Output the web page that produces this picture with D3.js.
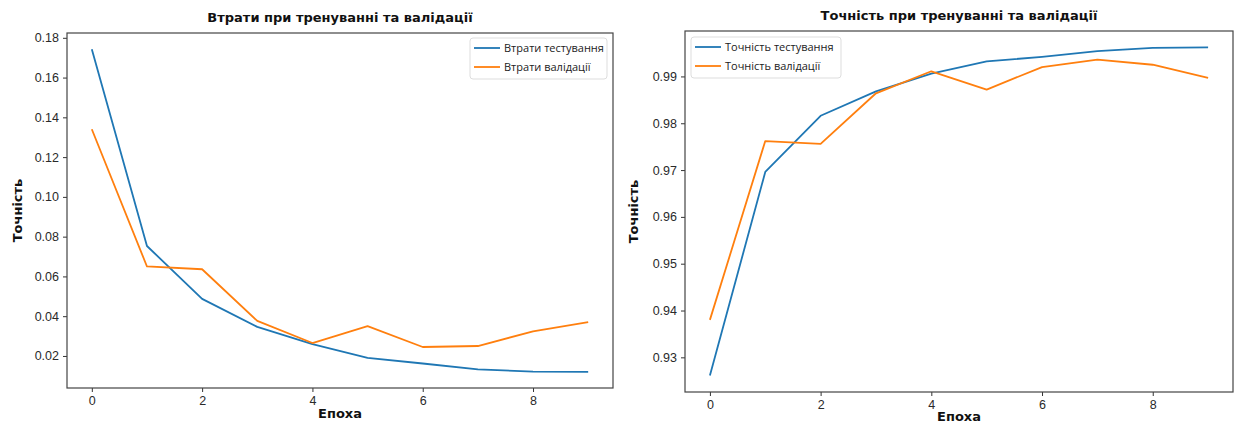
<!DOCTYPE html>
<html>
<head>
<meta charset="utf-8">
<script src="https://cdn.jsdelivr.net/npm/d3@7"></script>
<style>
  body { margin: 0; background: #fff; }
  svg { display: block; font-family: "DejaVu Sans", sans-serif; }
  .tick text { fill: #2a2a2a; font-size: 12.5px; }
  .tick line { stroke: #333; }
  .domain { display: none; }
</style>
</head>
<body>
<div id="chart"></div>
<script>
// epochs and series
var epochs = [0, 1, 2, 3, 4, 5, 6, 7, 8, 9];
var trainLoss = [0.1743, 0.0753, 0.0487, 0.0346, 0.0260, 0.0190, 0.0162, 0.0133, 0.0121, 0.0120];
var valLoss = [0.1340, 0.0650, 0.0636, 0.0376, 0.0265, 0.0350, 0.0245, 0.0250, 0.0324, 0.0370];
var trainAcc = [0.9261, 0.9696, 0.9816, 0.9868, 0.9906, 0.9932, 0.9942, 0.9954, 0.9961, 0.9962];
var valAcc = [0.9380, 0.9762, 0.9756, 0.9864, 0.9911, 0.9872, 0.9920, 0.9936, 0.9925, 0.9897];

// tick labels
var epochTicks = [0, 2, 4, 6, 8];
var lossTicks = [0.02, 0.04, 0.06, 0.08, 0.10, 0.12, 0.14, 0.16, 0.18];
var accTicks = [0.93, 0.94, 0.95, 0.96, 0.97, 0.98, 0.99];

// texts
var lossTitle = "Втрати при тренуванні та валідації";
var accTitle = "Точність при тренуванні та валідації";
var lossLegend = ["Втрати тестування", "Втрати валідації"];
var accLegend = ["Точність тестування", "Точність валідації"];
var xLabel = "Епоха";
var yLabel = "Точність";

var colors = ["#1f77b4", "#ff7f0e"];

var svg = d3.select("#chart")
    .append("svg")
    .attr("width", 1234)
    .attr("height", 425);

// pad like matplotlib does (5% of span)
function padded(arr) {
    var ext = d3.extent(arr);
    var m = (ext[1] - ext[0]) * 0.05;
    return [ext[0] - m, ext[1] + m];
}

function drawPanel(opts) {
    var left = opts.left, top = opts.top, right = opts.right, bottom = opts.bottom;

    var x = d3.scaleLinear()
        .domain(padded(epochs))
        .range([left, right]);

    var y = d3.scaleLinear()
        .domain(padded(opts.series[0].concat(opts.series[1])))
        .range([bottom, top]);

    var g = svg.append("g");

    // axes
    g.append("g")
        .attr("transform", `translate(0, ${bottom})`)
        .call(d3.axisBottom(x).tickValues(epochTicks).tickSize(4).tickPadding(4).tickFormat(d3.format("d")));

    g.append("g")
        .attr("transform", `translate(${left}, 0)`)
        .call(d3.axisLeft(y).tickValues(opts.ticks).tickSize(4).tickPadding(4).tickFormat(d3.format(opts.fmt)));

    // lines
    var line = d3.line()
        .x((d, i) => x(epochs[i]))
        .y(d => y(d));

    opts.series.forEach((s, k) => {
        g.append("path")
            .datum(s)
            .attr("fill", "none")
            .attr("stroke", colors[k])
            .attr("stroke-width", 1.8)
            .attr("stroke-linejoin", "round")
            .attr("d", line);
    });

    // frame
    g.append("rect")
        .attr("x", left)
        .attr("y", top)
        .attr("width", right - left)
        .attr("height", bottom - top)
        .attr("fill", "none")
        .attr("stroke", "#444")
        .attr("stroke-width", 1.2);

    // title
    g.append("text")
        .attr("x", (left + right) / 2)
        .attr("y", top - 11)
        .attr("text-anchor", "middle")
        .attr("font-size", "13px")
        .attr("font-weight", "bold")
        .attr("fill", "#111")
        .text(opts.title);

    // axis labels
    g.append("text")
        .attr("x", (left + right) / 2)
        .attr("y", opts.xlabelY)
        .attr("text-anchor", "middle")
        .attr("font-size", "13px")
        .attr("font-weight", "bold")
        .attr("fill", "#111")
        .text(xLabel);

    g.append("text")
        .attr("transform", `translate(${opts.ylabelX}, ${(top + bottom) / 2}) rotate(-90)`)
        .attr("text-anchor", "middle")
        .attr("font-size", "13px")
        .attr("font-weight", "bold")
        .attr("fill", "#111")
        .text(yLabel);

    // legend
    var lg = g.append("g")
        .attr("transform", `translate(${opts.legend.x}, ${opts.legend.y})`);

    lg.append("rect")
        .attr("width", opts.legend.w)
        .attr("height", 41)
        .attr("rx", 3)
        .attr("fill", "#fff")
        .attr("stroke", "#ddd");

    opts.legendText.forEach((t, k) => {
        var yy = 10 + k * 19;
        lg.append("line")
            .attr("x1", 4)
            .attr("x2", 30)
            .attr("y1", yy)
            .attr("y2", yy)
            .attr("stroke", colors[k])
            .attr("stroke-width", 1.8);
        lg.append("text")
            .attr("x", 34)
            .attr("y", yy + 4)
            .attr("font-family", "'Open Sans', sans-serif")
            .attr("font-size", "11px")
            .attr("fill", "#222")
            .text(t);
    });
}

drawPanel({
    left: 67, top: 33, right: 613, bottom: 388,
    series: [trainLoss, valLoss],
    ticks: lossTicks, fmt: ".2f",
    title: lossTitle,
    legendText: lossLegend,
    legend: { x: 470, y: 38, w: 137 },
    ylabelX: 22,
    xlabelY: 418
});

drawPanel({
    left: 685, top: 31, right: 1233, bottom: 392,
    series: [trainAcc, valAcc],
    ticks: accTicks, fmt: ".2f",
    title: accTitle,
    legendText: accLegend,
    legend: { x: 691, y: 37, w: 150 },
    ylabelX: 638,
    xlabelY: 421
});
</script>
</body>
</html>
